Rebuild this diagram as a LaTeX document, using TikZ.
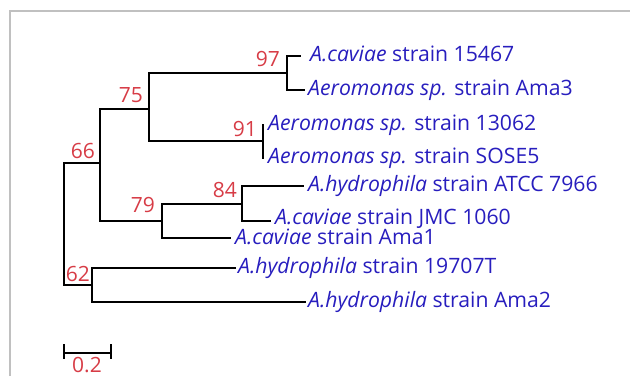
\documentclass[tikz,border=0pt]{standalone}
\usepackage{fontspec}
\setmainfont{Open Sans}
\definecolor{taxblue}{RGB}{40,30,190}
\definecolor{bootred}{RGB}{215,60,70}
\definecolor{framegray}{RGB}{192,192,192}
\begin{document}
\begin{tikzpicture}[x=1pt, y=-1pt, line join=miter]
			\tikzset{branch/.style={line width=2.8pt, line cap=rect},
				leaf/.style={anchor=west, inner sep=0pt, text height=13pt, text depth=3pt, text=taxblue, font=\fontsize{21.2}{24}\selectfont},
				boot/.style={anchor=south east, inner sep=0pt, text=bootred, font=\fontsize{21}{24}\selectfont}}
			\useasboundingbox (0,0) rectangle (630,376);
			\draw[framegray, line width=2pt] (10,376)--(10,11)--(630,11);
			% inner nodes (at the height of the incoming branch)
			\coordinate (root) at (64,224);
			\coordinate (n66) at (100,163);
			\coordinate (n75) at (149,109);
			\coordinate (n97) at (287,73);
			\coordinate (n91) at (263,141);
			\coordinate (n79) at (162,221);
			\coordinate (n84) at (242,204);
			\coordinate (n62) at (92,285);
			% leaf ends
			\coordinate (l1) at (300,56);
			\coordinate (l2) at (304,90);
			\coordinate (l3) at (263,125);
			\coordinate (l4) at (263,158);
			\coordinate (l5) at (303,186);
			\coordinate (l6) at (270,221);
			\coordinate (l7) at (230,238);
			\coordinate (l8) at (235,268);
			\coordinate (l9) at (305,302);
			\node[leaf] (t1) at ([xshift=10]l1) {{\itshape A.caviae} strain 15467};
			\node[leaf] (t2) at ([xshift=4]l2) {{\itshape Aeromonas sp.} strain Ama3};
			\node[leaf] (t3) at ([xshift=5]l3) {{\itshape Aeromonas sp.} strain 13062};
			\node[leaf] (t4) at ([xshift=5]l4) {{\itshape Aeromonas sp.} strain SOSE5};
			\node[leaf] (t5) at ([xshift=5]l5) {{\itshape A.hydrophila} strain ATCC 7966};
			\node[leaf] (t6) at ([xshift=5,yshift=1.5]l6) {{\itshape A.caviae} strain JMC 1060};
			\node[leaf] (t7) at ([xshift=5,yshift=-1.5]l7) {{\itshape A.caviae} strain Ama1};
			\node[leaf] (t8) at ([xshift=3]l8) {{\itshape A.hydrophila} strain 19707T};
			\node[leaf] (t9) at ([xshift=3]l9) {{\itshape A.hydrophila} strain Ama2};
			\draw[branch] (root)|-(n66) (root)|-(n62);
			\draw[branch] (n66)|-(n75) (n66)|-(n79);
			\draw[branch] (n75)|-(n97) (n75)|-(n91);
			\draw[branch] (n97)|-(l1) (n97)|-(l2);
			\draw[branch] (n91)|-(l3) (n91)|-(l4);
			\draw[branch] (n79)|-(n84) (n79)|-(l7);
			\draw[branch] (n84)|-(l5) (n84)|-(l6);
			\draw[branch] (n62)|-(l8) (n62)|-(l9);
			% bootstrap values
			\node[boot] (b66) at ([xshift=-5,yshift=4]n66) {66};
			\node[boot] (b75) at ([xshift=-6,yshift=6]n75) {75};
			\node[boot] (b97) at ([xshift=-7,yshift=6]n97) {97};
			\node[boot] (b91) at ([xshift=-6,yshift=4]n91) {91};
			\node[boot] (b79) at ([xshift=-7,yshift=8]n79) {79};
			\node[boot] (b84) at ([xshift=-5,yshift=6]n84) {84};
			\node[boot] (b62) at ([xshift=-2,yshift=3]n62) {62};
			% scale bar
			\coordinate (s0) at (64,353);
			\coordinate (s1) at (111,353);
			\draw[branch] (s0)--(s1);
			\draw[branch] ([yshift=8]s0)--([yshift=-5]s0);
			\draw[branch] ([yshift=8]s1)--([yshift=-5]s1);
			\node[text=bootred, inner sep=0pt, font=\fontsize{21}{24}\selectfont] (sl) at (87,365) {0.2};
		\end{tikzpicture}
\end{document}
